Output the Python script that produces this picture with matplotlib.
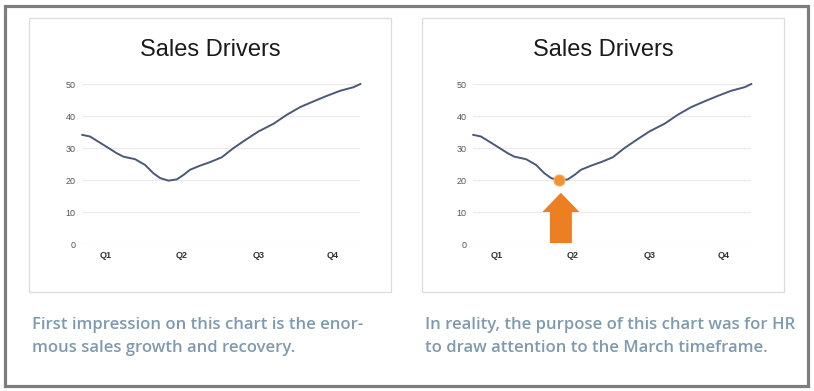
import matplotlib
matplotlib.use('Agg')
import matplotlib.pyplot as plt
from matplotlib.patches import Rectangle, FancyArrow

# sales line, x in months from start of year
months = [0, 0.33, 0.91, 1.48, 1.77, 2.28, 2.71, 3.07, 3.36, 3.72, 4.08, 4.37, 4.65,
          5.09, 5.52, 6.02, 6.53, 7.1, 7.61, 8.26, 8.83, 9.41, 9.99, 10.56, 11.14, 11.71, 12]
sales = [34.1, 33.6, 31, 28.4, 27.3, 26.5, 24.7, 22.1, 20.6, 19.8, 20.2, 21.6, 23.2,
         24.5, 25.6, 27.1, 30, 32.8, 35.2, 37.6, 40.4, 42.8, 44.6, 46.3, 47.9, 49, 50]
quarters = ['Q1', 'Q2', 'Q3', 'Q4']
quarter_pos = [1.0, 4.3, 7.6, 10.8]
yticks = [0, 10, 20, 30, 40, 50]
highlight_x, highlight_y = 3.72, 20

captions = [['First impression on this chart is the enor-', 'mous sales growth and recovery.'],
            ['In reality, the purpose of this chart was for HR', 'to draw attention to the March timeframe.']]

W, H = 814, 391
fig = plt.figure(figsize=(W / 100, H / 100), dpi=100)
fig.patch.set_facecolor('white')


def px(x, y):
    return x / W, 1 - y / H


# outer frame
fig.patches.append(Rectangle(px(5, 386), 803 / W, 380 / H, transform=fig.transFigure,
                             fill=False, edgecolor='#7d7d7d', linewidth=2.3))

line_color = '#4b5877'
orange = '#ec7f22'
caption_color = '#7f9ab0'

panels = [(29, 391, 82.3), (422, 784, 473.3)]
for i, (bx0, bx1, ax0) in enumerate(panels):
    fig.patches.append(Rectangle(px(bx0, 292), (bx1 - bx0) / W, 274 / H, transform=fig.transFigure,
                                 fill=False, edgecolor='#dcdcdc', linewidth=0.9))
    fig.text((bx0 + bx1) / 2 / W, 1 - 50 / H, 'Sales Drivers', ha='center', va='center',
             fontsize=17, family='Liberation Sans', color='#1a1a1a')

    ax = fig.add_axes([ax0 / W, 147 / H, 278 / W, 160 / H])
    ax.set_xlim(0, 12)
    ax.set_ylim(0, 50)
    for s in ax.spines.values():
        s.set_visible(False)
    ax.set_yticks(yticks)
    ax.set_yticklabels([str(t) for t in yticks], fontsize=6.5, color='#555555', family='Liberation Sans')
    ax.set_xticks(quarter_pos)
    ax.set_xticklabels(quarters, fontsize=6.5, fontweight='bold', color='#333333', family='Liberation Sans')
    ax.tick_params(length=0)
    ax.tick_params(axis='y', pad=5)
    ax.tick_params(axis='x', pad=5)
    ax.grid(axis='y', color='#ececec', linewidth=1)
    ax.set_axisbelow(True)
    ax.plot(months, sales, color=line_color, linewidth=1.4, clip_on=False, zorder=3)

    if i == 1:
        ax.plot([highlight_x], [highlight_y], 'o', markersize=8, markerfacecolor='#f0922f',
                markeredgecolor='#f4b06a', markeredgewidth=0.8, zorder=4, clip_on=False)
        ax.add_patch(FancyArrow(3.78, 0.3, 0, 15.7, width=0.95, head_width=1.6, head_length=6,
                                length_includes_head=True, color=orange, linewidth=0, zorder=4))

    for j, line in enumerate(captions[i]):
        fig.text((bx0 + 3) / W, 1 - (329 + 23 * j) / H, line, ha='left', va='baseline',
                 fontsize=11.95, family='Open Sans', fontweight='semibold', color=caption_color)

fig.savefig('out.png', dpi=100, facecolor='white')
